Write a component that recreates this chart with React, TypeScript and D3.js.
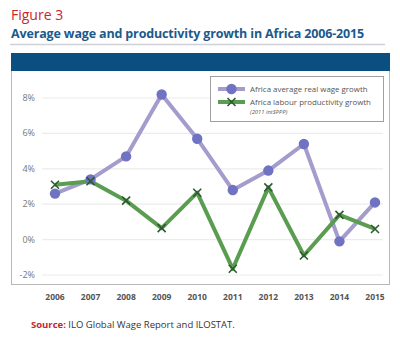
import React from "react";
import * as d3 from "d3";

const years = ["2006","2007","2008","2009","2010","2011","2012","2013","2014","2015"];
const wageGrowth = [2.6, 3.4, 4.7, 8.2, 5.7, 2.8, 3.9, 5.4, -0.1, 2.1];
const productivityGrowth = [3.1, 3.3, 2.2, 0.65, 2.65, -1.65, 2.95, -0.9, 1.4, 0.6];
const yTicks = [-2, 0, 2, 4, 6, 8];

const W = 400, H = 339;
const FONT = "'Open Sans', 'Noto Sans', sans-serif";

export default function App() {
  const x = d3.scalePoint<string>().domain(years).range([55, 375]);
  const y = d3.scaleLinear().domain([-2, 8]).range([275, 98]);
  const line = d3.line<number>().x((_, i) => x(years[i])!).y(d => y(d));

  const wagePath = line(wageGrowth)!;
  const prodPath = line(productivityGrowth)!;
  const xs = 4;

  return (
    <svg width={W} height={H} style={{ position: "absolute", left: 0, top: 0, background: "#fff" }} fontFamily={FONT}>
      <rect x={0} y={0} width={W} height={H} fill="#fff" />
      <text x={11} y={20} fill="#c8262f" fontSize={14}>Figure 3</text>
      <text x={11} y={38} fill="#1b5a8c" fontSize={12.5} fontWeight="bold" letterSpacing={-0.15}>Average wage and productivity growth in Africa 2006-2015</text>
      <line x1={10} x2={385} y1={44.5} y2={44.5} stroke="#d0d0d6" strokeWidth={1.5} />

      {/* chart box */}
      <rect x={11.5} y={53.5} width={378} height={231} fill="#fff" stroke="#b8b8b8" strokeWidth={1} />
      <rect x={11} y={53} width={379} height={18} fill="#0b4f80" />

      {yTicks.map(t => (
        <g key={t}>
          <line x1={42} x2={383} y1={y(t)} y2={y(t)} stroke="#ececec" strokeWidth={1.2} />
          <text x={35} y={y(t) + 3} textAnchor="end" fill="#777" fontSize={9}>{`${t}%`}</text>
        </g>
      ))}
      {years.map(yr => (
        <text key={yr} x={x(yr)} y={300} textAnchor="middle" fill="#555" fontSize={8.5} fontWeight="bold">{yr}</text>
      ))}

      <path d={wagePath} fill="none" stroke="#a49ccc" strokeWidth={4} strokeLinejoin="round" />
      <path d={prodPath} fill="none" stroke="#5a9c50" strokeWidth={4} strokeLinejoin="round" />
      {wageGrowth.map((v, i) => (
        <circle key={i} cx={x(years[i])} cy={y(v)} r={5.2} fill="#6f73c1" />
      ))}
      {productivityGrowth.map((v, i) => {
        const cx = x(years[i])!, cy = y(v);
        return (
          <path key={i} d={`M${cx - xs},${cy - xs}L${cx + xs},${cy + xs}M${cx - xs},${cy + xs}L${cx + xs},${cy - xs}`} stroke="#2d5a30" strokeWidth={1.6} />
        );
      })}

      {/* legend */}
      <rect x={210.5} y={76.5} width={173} height={45} fill="#fff" stroke="#a0a0a0" strokeWidth={1} />
      <line x1={218} x2={245} y1={89} y2={89} stroke="#a49ccc" strokeWidth={4} />
      <circle cx={231.5} cy={89} r={5.2} fill="#6f73c1" />
      <text x={250} y={92} fill="#555" fontSize={7.9}>Africa average real wage growth</text>
      <line x1={218} x2={245} y1={102} y2={102} stroke="#5a9c50" strokeWidth={4} />
      <path d={`M${231.5 - xs},${102 - xs}L${231.5 + xs},${102 + xs}M${231.5 - xs},${102 + xs}L${231.5 + xs},${102 - xs}`} stroke="#2d5a30" strokeWidth={1.6} />
      <text x={250} y={105} fill="#555" fontSize={7.9}>Africa labour productivity growth</text>
      <text x={250} y={114} fill="#555" fontSize={5.8} fontStyle="italic">(2011 int$PPP)</text>

      <text x={31} y={328} fontSize={9.5} fill="#333">
        <tspan fill="#c8262f" fontWeight="bold">Source:</tspan>
        <tspan> ILO Global Wage Report and ILOSTAT.</tspan>
      </text>
    </svg>
  );
}
